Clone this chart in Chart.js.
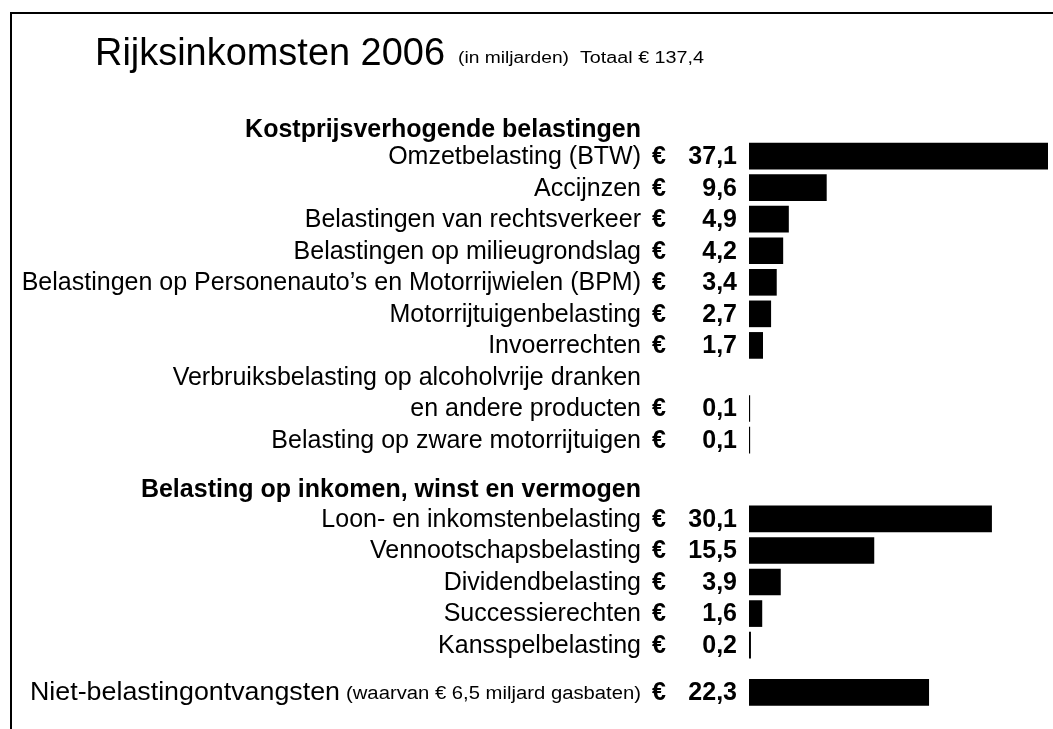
<!DOCTYPE html>
<html>
<head>
<meta charset="utf-8">
<script src="https://cdn.jsdelivr.net/npm/chart.js@4/dist/chart.umd.min.js"></script>
<style>
  body { margin: 0; background: #fff; }
  #wrap { position: relative; width: 1053px; height: 729px; }
</style>
</head>
<body>
<div id="wrap"><canvas id="chart" width="1053" height="729"></canvas></div>
<script>
// data
const titleText = "Rijksinkomsten 2006"
const subText = "(in miljarden)"
const totalText = "Totaal € 137,4"
const groupTitles = ["Kostprijsverhogende belastingen", "Belasting op inkomen, winst en vermogen"]
const kostLabels = [
  "Omzetbelasting (BTW)",
  "Accijnzen",
  "Belastingen van rechtsverkeer",
  "Belastingen op milieugrondslag",
  "Belastingen op Personenauto’s en Motorrijwielen (BPM)",
  "Motorrijtuigenbelasting",
  "Invoerrechten",
  ["Verbruiksbelasting op alcoholvrije dranken", "en andere producten"],
  "Belasting op zware motorrijtuigen",
]
const kostValues = [37.1, 9.6, 4.9, 4.2, 3.4, 2.7, 1.7, 0.1, 0.1]
const inkomenLabels = [
  "Loon- en inkomstenbelasting",
  "Vennootschapsbelasting",
  "Dividendbelasting",
  "Successierechten",
  "Kansspelbelasting",
]
const inkomenValues = [30.1, 15.5, 3.9, 1.6, 0.2]
const nietLabel = "Niet-belastingontvangsten"
const nietNote = "(waarvan € 6,5 miljard gasbaten)"
const nietValue = 22.3

const FONT = '"Liberation Sans", Arial, sans-serif'

// rows: headers, bars, extra text lines; gap of half a row between groups
const rows = []
let p = 0
function addGroup(title, labels, values) {
  rows.push({ kind: "header", text: title, pos: p })
  p += 1
  labels.forEach((lab, i) => {
    const lines = Array.isArray(lab) ? lab : [lab]
    lines.slice(0, -1).forEach((l) => {
      rows.push({ kind: "text", text: l, pos: p })
      p += 1
    })
    rows.push({ kind: "bar", text: lines[lines.length - 1], value: values[i], pos: p })
    p += 1
  })
  p += 0.5
}
addGroup(groupTitles[0], kostLabels, kostValues)
addGroup(groupTitles[1], inkomenLabels, inkomenValues)
rows.push({ kind: "bar", text: nietLabel, note: nietNote, value: nietValue, pos: p })

const barRows = rows.filter((r) => r.kind === "bar")
const maxValue = Math.max(...barRows.map((r) => r.value))

const fmt = (v) => v.toFixed(1).replace(".", ",")

// tekst links uitgelijnd, horizontaal geschaald naar een breedte
function fitText(ctx, text, x, y, width) {
  const w = ctx.measureText(text).width
  ctx.save()
  ctx.translate(x, y)
  ctx.scale(width / w, 1)
  ctx.textAlign = "left"
  ctx.fillText(text, 0, 0)
  ctx.restore()
}

const textPlugin = {
  id: "texts",
  afterDraw(chart) {
    const ctx = chart.ctx
    const y = chart.scales.y
    ctx.save()
    // kader
    ctx.strokeStyle = "#000"
    ctx.lineWidth = 2
    ctx.beginPath()
    ctx.moveTo(11, 729)
    ctx.lineTo(11, 13)
    ctx.lineTo(1053, 13)
    ctx.stroke()

    ctx.fillStyle = "#000"
    ctx.textBaseline = "alphabetic"
    ctx.textAlign = "left"
    ctx.font = "39px " + FONT
    fitText(ctx, titleText, 95, 65, 350)
    ctx.font = "16px " + FONT
    fitText(ctx, subText, 458, 63, 111)
    fitText(ctx, totalText, 580, 63, 124)

    const labelRight = 641
    ctx.textBaseline = "middle"
    rows.forEach((r) => {
      const py = y.getPixelForValue(r.pos) + 1
      if (r.kind === "header") {
        ctx.font = "bold 25px " + FONT
        ctx.textAlign = "right"
        ctx.fillText(r.text, labelRight, py + (r.pos === 0 ? 5 : 2))
        return
      }
      if (r.note) {
        // label + kleinere toelichting
        ctx.font = "18px " + FONT
        fitText(ctx, r.note, 346, py + 1, 295)
        ctx.font = "25px " + FONT
        fitText(ctx, r.text, 30, py, 310)
      } else {
        ctx.font = "25px " + FONT
        ctx.textAlign = "right"
        ctx.fillText(r.text, labelRight, py)
      }
      if (r.kind === "bar") {
        ctx.font = "bold 25px " + FONT
        ctx.textAlign = "left"
        ctx.fillText("€", 652, py)
        ctx.textAlign = "right"
        ctx.fillText(fmt(r.value), 737, py)
      }
    })
    ctx.restore()
  },
}

new Chart(document.getElementById("chart"), {
  type: "bar",
  data: {
    datasets: [
      {
        data: barRows.map((r) => ({ x: r.value, y: r.pos })),
        backgroundColor: "#000",
        borderWidth: 0,
        barThickness: 26,
      },
    ],
  },
  options: {
    indexAxis: "y",
    responsive: false,
    animation: false,
    layout: { padding: { left: 749, right: 5, top: 93, bottom: 5 } },
    plugins: { legend: { display: false }, tooltip: { enabled: false } },
    scales: {
      x: { type: "linear", min: 0, max: maxValue, display: false },
      y: { type: "linear", min: -1, max: 19, reverse: true, offset: false, display: false },
    },
  },
  plugins: [textPlugin],
})
</script>
</body>
</html>
